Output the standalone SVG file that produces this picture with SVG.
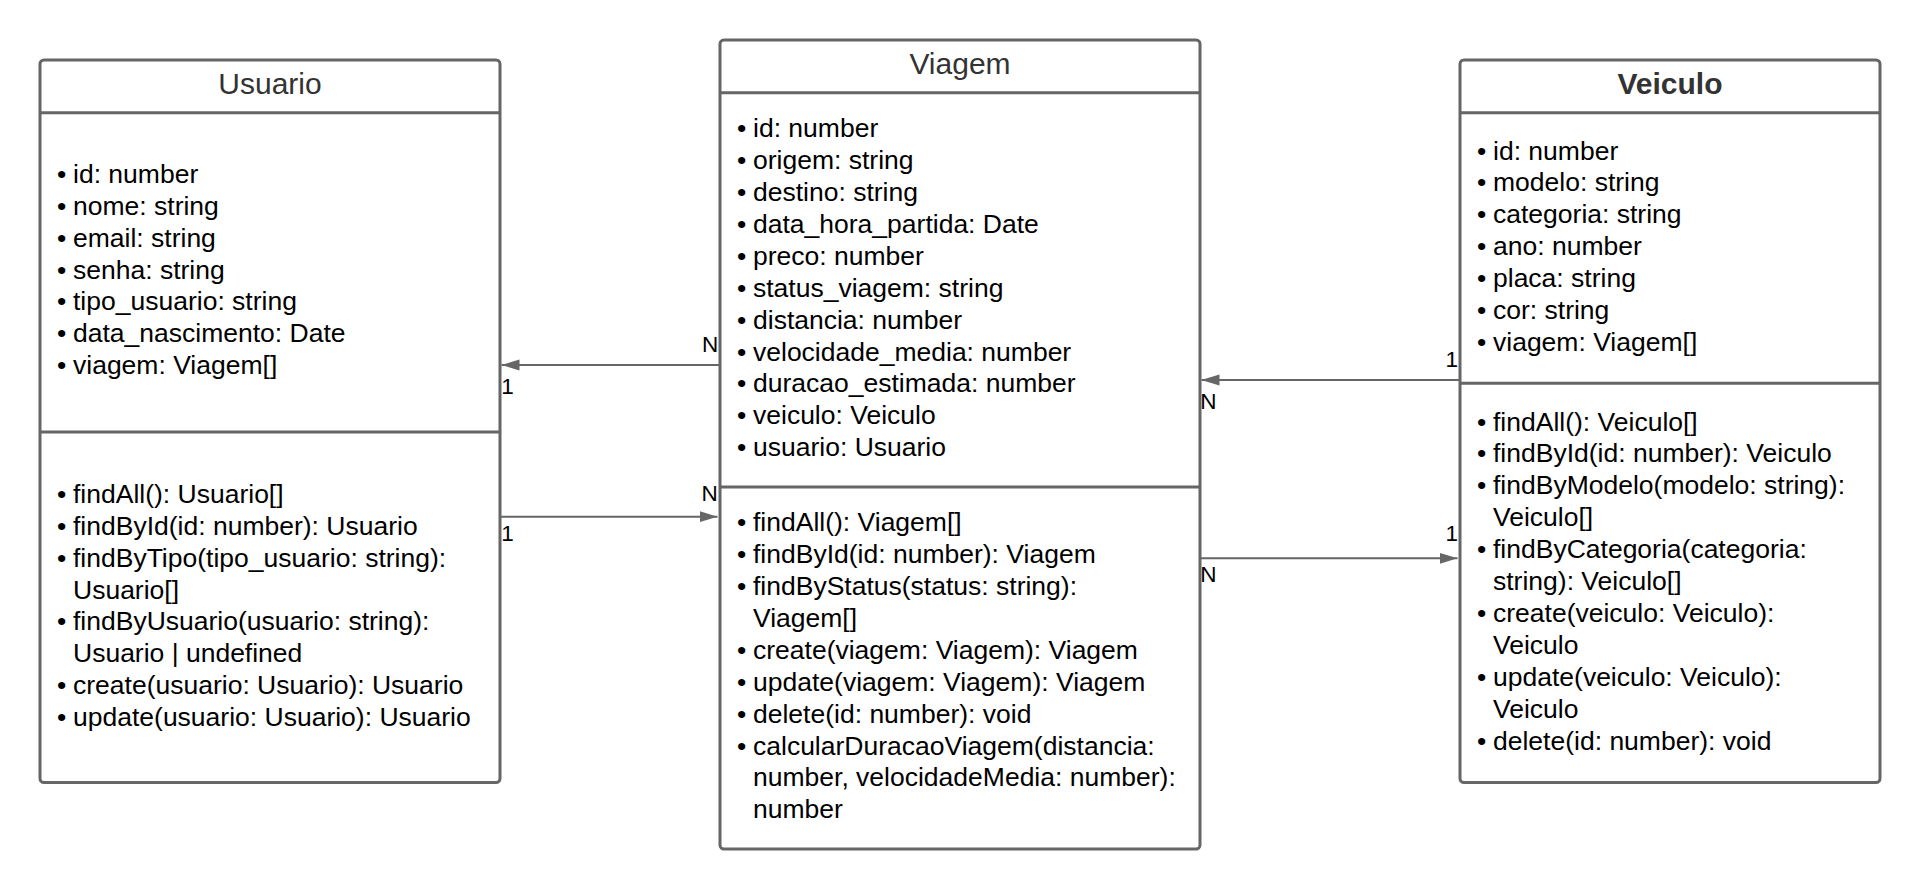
<svg xmlns="http://www.w3.org/2000/svg" width="1920" height="890" viewBox="0 0 1920 890">
<style>
.box{fill:#fff;stroke:#666;stroke-width:3}
.div{stroke:#666;stroke-width:3}
.title{font-family:"Liberation Sans",Arial,sans-serif;font-size:30px;fill:#333;text-anchor:middle}
.bold{font-weight:bold}
.t{font-family:"Liberation Sans",Arial,sans-serif;font-size:26.5px;fill:#000}
.lbl{font-family:"Liberation Sans",Arial,sans-serif;font-size:22.5px;fill:#000;text-anchor:middle}
.con{stroke:#666;stroke-width:2;fill:none;marker-end:url(#arr)}
</style>
<defs>
<marker id="arr" markerWidth="18" markerHeight="12" refX="18" refY="6" orient="auto" markerUnits="userSpaceOnUse">
<path d="M0,0.5 L18,6 L0,11.5 z" fill="#666"/>
</marker>
</defs>
<rect width="1920" height="890" fill="#fff"/>

<g id="connectors">
<path class="con" d="M719,365 H501.5"/>
<path class="con" d="M501,516.7 H717.5"/>
<path class="con" d="M1459,380 H1201.5"/>
<path class="con" d="M1201,558.3 H1457.5"/>
<text class="lbl" x="710" y="352">N</text>
<text class="lbl" x="507.5" y="393.5">1</text>
<text class="lbl" x="709.5" y="500.5">N</text>
<text class="lbl" x="507.5" y="541">1</text>
<text class="lbl" x="1451.7" y="366.5">1</text>
<text class="lbl" x="1208.3" y="408.5">N</text>
<text class="lbl" x="1451.7" y="540.5">1</text>
<text class="lbl" x="1208.3" y="582">N</text>
</g>

<g id="usuario">
<rect class="box" x="40" y="60" width="460" height="722.5" rx="4"/>
<line class="div" x1="40" y1="112.7" x2="500" y2="112.7"/>
<line class="div" x1="40" y1="432" x2="500" y2="432"/>
<text class="title" x="270" y="93.5">Usuario</text>
<g class="t">
<text x="57" y="182.8">•<tspan x="73">id: number</tspan></text>
<text x="57" y="214.7">•<tspan x="73">nome: string</tspan></text>
<text x="57" y="246.6">•<tspan x="73">email: string</tspan></text>
<text x="57" y="278.5">•<tspan x="73">senha: string</tspan></text>
<text x="57" y="310.4">•<tspan x="73">tipo_usuario: string</tspan></text>
<text x="57" y="342.3">•<tspan x="73">data_nascimento: Date</tspan></text>
<text x="57" y="374.2">•<tspan x="73">viagem: Viagem[]</tspan></text>
<text x="57" y="502.8">•<tspan x="73">findAll(): Usuario[]</tspan></text>
<text x="57" y="534.7">•<tspan x="73">findById(id: number): Usuario</tspan></text>
<text x="57" y="566.6">•<tspan x="73">findByTipo(tipo_usuario: string):</tspan></text>
<text x="73" y="598.5">Usuario[]</text>
<text x="57" y="630.4">•<tspan x="73">findByUsuario(usuario: string):</tspan></text>
<text x="73" y="662.3">Usuario | undefined</text>
<text x="57" y="694.2">•<tspan x="73">create(usuario: Usuario): Usuario</tspan></text>
<text x="57" y="726.1">•<tspan x="73">update(usuario: Usuario): Usuario</tspan></text>
</g>
</g>

<g id="viagem">
<rect class="box" x="720" y="40" width="480" height="809" rx="4"/>
<line class="div" x1="720" y1="92.7" x2="1200" y2="92.7"/>
<line class="div" x1="720" y1="487" x2="1200" y2="487"/>
<text class="title" x="960" y="73.5">Viagem</text>
<g class="t">
<text x="737" y="137.2">•<tspan x="753">id: number</tspan></text>
<text x="737" y="169.1">•<tspan x="753">origem: string</tspan></text>
<text x="737" y="201">•<tspan x="753">destino: string</tspan></text>
<text x="737" y="232.9">•<tspan x="753">data_hora_partida: Date</tspan></text>
<text x="737" y="264.8">•<tspan x="753">preco: number</tspan></text>
<text x="737" y="296.7">•<tspan x="753">status_viagem: string</tspan></text>
<text x="737" y="328.6">•<tspan x="753">distancia: number</tspan></text>
<text x="737" y="360.5">•<tspan x="753">velocidade_media: number</tspan></text>
<text x="737" y="392.4">•<tspan x="753">duracao_estimada: number</tspan></text>
<text x="737" y="424.3">•<tspan x="753">veiculo: Veiculo</tspan></text>
<text x="737" y="456.2">•<tspan x="753">usuario: Usuario</tspan></text>
<text x="737" y="531.2">•<tspan x="753">findAll(): Viagem[]</tspan></text>
<text x="737" y="563.1">•<tspan x="753">findById(id: number): Viagem</tspan></text>
<text x="737" y="595">•<tspan x="753">findByStatus(status: string):</tspan></text>
<text x="753" y="626.9">Viagem[]</text>
<text x="737" y="658.8">•<tspan x="753">create(viagem: Viagem): Viagem</tspan></text>
<text x="737" y="690.7">•<tspan x="753">update(viagem: Viagem): Viagem</tspan></text>
<text x="737" y="722.6">•<tspan x="753">delete(id: number): void</tspan></text>
<text x="737" y="754.5">•<tspan x="753">calcularDuracaoViagem(distancia:</tspan></text>
<text x="753" y="786.4">number, velocidadeMedia: number):</text>
<text x="753" y="818.3">number</text>
</g>
</g>

<g id="veiculo">
<rect class="box" x="1460" y="60" width="420" height="722.5" rx="4"/>
<line class="div" x1="1460" y1="112.7" x2="1880" y2="112.7"/>
<line class="div" x1="1460" y1="383.3" x2="1880" y2="383.3"/>
<text class="title bold" x="1670" y="93.5">Veiculo</text>
<g class="t">
<text x="1477" y="159.5">•<tspan x="1493">id: number</tspan></text>
<text x="1477" y="191.4">•<tspan x="1493">modelo: string</tspan></text>
<text x="1477" y="223.3">•<tspan x="1493">categoria: string</tspan></text>
<text x="1477" y="255.2">•<tspan x="1493">ano: number</tspan></text>
<text x="1477" y="287.1">•<tspan x="1493">placa: string</tspan></text>
<text x="1477" y="319">•<tspan x="1493">cor: string</tspan></text>
<text x="1477" y="350.9">•<tspan x="1493">viagem: Viagem[]</tspan></text>
<text x="1477" y="430.5">•<tspan x="1493">findAll(): Veiculo[]</tspan></text>
<text x="1477" y="462.4">•<tspan x="1493">findById(id: number): Veiculo</tspan></text>
<text x="1477" y="494.3">•<tspan x="1493">findByModelo(modelo: string):</tspan></text>
<text x="1493" y="526.2">Veiculo[]</text>
<text x="1477" y="558.1">•<tspan x="1493">findByCategoria(categoria:</tspan></text>
<text x="1493" y="590">string): Veiculo[]</text>
<text x="1477" y="621.9">•<tspan x="1493">create(veiculo: Veiculo):</tspan></text>
<text x="1493" y="653.8">Veiculo</text>
<text x="1477" y="685.7">•<tspan x="1493">update(veiculo: Veiculo):</tspan></text>
<text x="1493" y="717.6">Veiculo</text>
<text x="1477" y="749.5">•<tspan x="1493">delete(id: number): void</tspan></text>
</g>
</g>
</svg>
